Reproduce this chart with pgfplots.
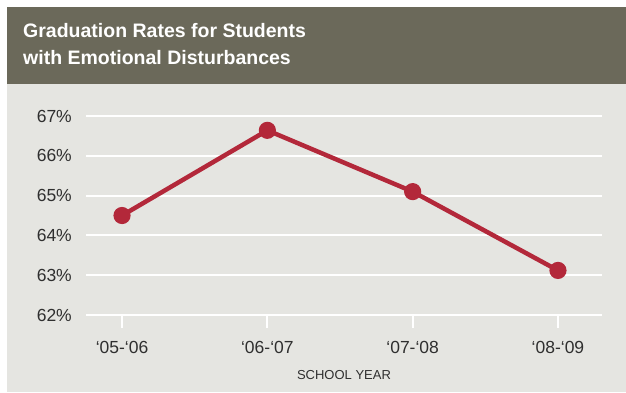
\documentclass[border=0pt]{standalone}
\usepackage{pgfplots}
\pgfplotsset{compat=1.18}
\usepackage{fontspec}
\setmainfont{Liberation Sans}
\definecolor{hdr}{HTML}{6B695A}
\definecolor{bgc}{HTML}{E5E5E1}
\definecolor{lred}{HTML}{B3283A}
\definecolor{txt}{HTML}{2F2F2F}
\begin{document}
\begin{tikzpicture}[x=1pt,y=1pt]
\fill[white] (0,0) rectangle (626,392);
\fill[bgc] (7,0) rectangle (626,308);
\fill[hdr] (7,308) rectangle (626,385);
\node[anchor=base west,inner sep=0,text=white,font=\bfseries\fontsize{19.5}{22}\selectfont] at (23,355) {Graduation Rates for Students};
\node[anchor=base west,inner sep=0,text=white,font=\bfseries\fontsize{19.5}{22}\selectfont] at (23,327) {with Emotional Disturbances};
\begin{axis}[
  at={(86pt,77pt)}, anchor=south west,
  scale only axis, width=516pt, height=199pt,
  xmin=-0.248, xmax=3.303, ymin=62, ymax=67,
  axis line style={draw=none},
  xtick={0,1,2,3},
  xticklabels={‘05-‘06,‘06-‘07,‘07-‘08,‘08-‘09},
  ytick={62,63,64,65,66,67},
  yticklabels={62\%,63\%,64\%,65\%,66\%,67\%},
  ymajorgrids, grid style={white,line width=2pt},
  major tick length=13pt,
  xtick style={white,line width=2pt},
  ytick style={draw=none},
  tick align=outside,
  xtick pos=bottom, ytick pos=left,
  tick label style={font=\fontsize{17.5}{19}\selectfont,text=txt},
  yticklabel style={anchor=east,inner sep=0pt,xshift=-1pt},
  xticklabel style={anchor=base,inner sep=0pt,yshift=-25pt},
  xlabel={SCHOOL YEAR},
  xlabel style={at={(axis description cs:0.5,0)},anchor=base,inner sep=0pt,yshift=-64pt,font=\fontsize{13}{15}\selectfont,text=txt},
  clip=false,
]
\addplot[lred,line width=4.5pt,mark=*,mark size=6.3pt,mark options={fill=lred,draw=none}]
  coordinates {(0,64.5) (1,66.64) (2,65.1) (3,63.12)};
\end{axis}
\end{tikzpicture}
\end{document}
